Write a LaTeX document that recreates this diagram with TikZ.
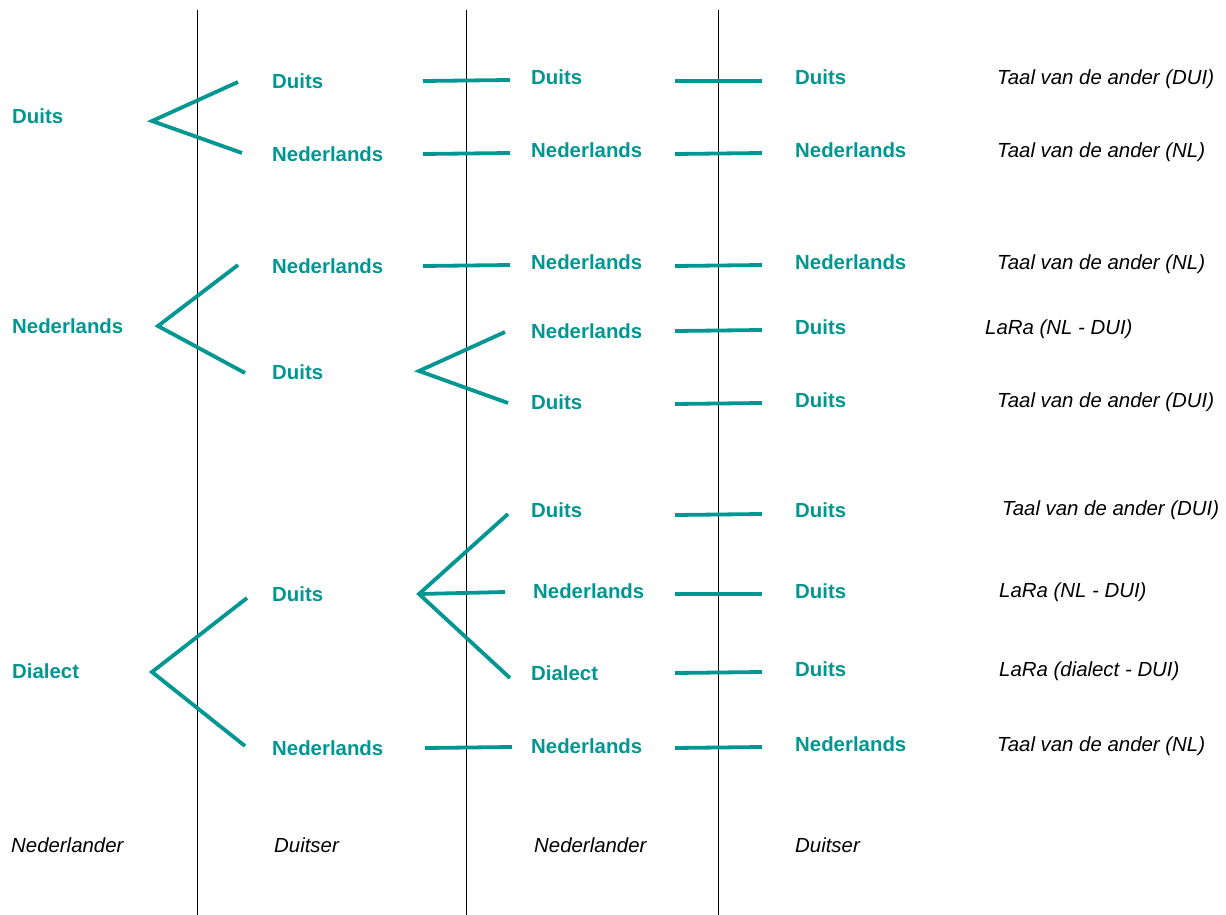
\documentclass[tikz,border=0pt]{standalone}
\usepackage{fontspec}
\setmainfont{Liberation Sans}
\definecolor{teal}{RGB}{0,150,145}
\begin{document}
\begin{tikzpicture}[x=1pt,y=-1pt,
  lang/.style={anchor=west,inner sep=0pt,text height=14.6pt,text depth=0pt,font=\fontsize{20.4}{24}\selectfont\bfseries,text=teal},
  note/.style={anchor=west,inner sep=0pt,text height=14.6pt,text depth=0pt,font=\fontsize{20.4}{24}\selectfont\itshape},
  branch/.style={draw=teal,line width=3.8pt},
  divider/.style={draw=black,line width=0.8pt}]
\useasboundingbox (0,0) rectangle (1226,915);
% dividers
\coordinate (v1t) at (197,10); \coordinate (v1b) at (197,915);
\coordinate (v2t) at (466,10); \coordinate (v2b) at (466,915);
\coordinate (v3t) at (718,10); \coordinate (v3b) at (718,915);
\draw[divider] (v1t) -- (v1b);
\draw[divider] (v2t) -- (v2b);
\draw[divider] (v3t) -- (v3b);
% column 1
\node[lang] (a1) at (12,116) {Duits};
\node[lang] (a2) at (12,326) {Nederlands};
\node[lang] (a3) at (12,671) {Dialect};
% column 2
\node[lang] (b1) at (272,81) {Duits};
\node[lang] (b2) at (272,154) {Nederlands};
\node[lang] (b3) at (272,266) {Nederlands};
\node[lang] (b4) at (272,372) {Duits};
\node[lang] (b5) at (272,594) {Duits};
\node[lang] (b6) at (272,748) {Nederlands};
% column 3
\node[lang] (c1) at (531,77) {Duits};
\node[lang] (c2) at (531,150) {Nederlands};
\node[lang] (c3) at (531,262) {Nederlands};
\node[lang] (c4) at (531,331) {Nederlands};
\node[lang] (c5) at (531,402) {Duits};
\node[lang] (c6) at (531,510) {Duits};
\node[lang] (c7) at (533,591) {Nederlands};
\node[lang] (c8) at (531,673) {Dialect};
\node[lang] (c9) at (531,746) {Nederlands};
% column 4
\node[lang] (d1) at (795,77) {Duits};
\node[lang] (d2) at (795,150) {Nederlands};
\node[lang] (d3) at (795,262) {Nederlands};
\node[lang] (d4) at (795,327) {Duits};
\node[lang] (d5) at (795,400) {Duits};
\node[lang] (d6) at (795,510) {Duits};
\node[lang] (d7) at (795,591) {Duits};
\node[lang] (d8) at (795,669) {Duits};
\node[lang] (d9) at (795,744) {Nederlands};
% column 5
\node[note] (e1) at (997,77) {Taal van de ander (DUI)};
\node[note] (e2) at (997,150) {Taal van de ander (NL)};
\node[note] (e3) at (997,262) {Taal van de ander (NL)};
\node[note] (e4) at (985,327) {LaRa (NL - DUI)};
\node[note] (e5) at (997,400) {Taal van de ander (DUI)};
\node[note] (e6) at (1002,508) {Taal van de ander (DUI)};
\node[note] (e7) at (999,590) {LaRa (NL - DUI)};
\node[note] (e8) at (999,669) {LaRa (dialect - DUI)};
\node[note] (e9) at (997,744) {Taal van de ander (NL)};
% bottom
\node[note] (f1) at (11,845) {Nederlander};
\node[note] (f2) at (274,845) {Duitser};
\node[note] (f3) at (534,845) {Nederlander};
\node[note] (f4) at (795,845) {Duitser};
% branches column 1 -> 2
\coordinate (p1) at (152,121); \coordinate (p1a) at (238,82); \coordinate (p1b) at (242,153);
\draw[branch] (p1a) -- (p1) -- (p1b);
\coordinate (p2) at (158,326); \coordinate (p2a) at (238,265); \coordinate (p2b) at (245,373);
\draw[branch] (p2a) -- (p2) -- (p2b);
\coordinate (p3) at (152,672); \coordinate (p3a) at (247,598); \coordinate (p3b) at (245,746);
\draw[branch] (p3a) -- (p3) -- (p3b);
% branches column 2 -> 3
\coordinate (q1) at (419,371); \coordinate (q1a) at (505,332); \coordinate (q1b) at (508,403);
\draw[branch] (q1a) -- (q1) -- (q1b);
\coordinate (q2) at (419,594); \coordinate (q2a) at (508,514); \coordinate (q2b) at (505,592); \coordinate (q2c) at (510,678);
\draw[branch] (q2a) -- (q2) -- (q2c);
\draw[branch] (q2) -- (q2b);
% straight lines column 2 -> 3
\coordinate (s1a) at (423,81);  \coordinate (s1b) at (510,80);
\coordinate (s2a) at (423,154); \coordinate (s2b) at (510,153);
\coordinate (s3a) at (423,266); \coordinate (s3b) at (510,265);
\coordinate (s4a) at (425,748); \coordinate (s4b) at (512,747);
\foreach \i in {1,...,4} {\draw[branch] (s\i a) -- (s\i b);}
% straight lines column 3 -> 4
\coordinate (t1a) at (675,81);  \coordinate (t1b) at (762,81);
\coordinate (t2a) at (675,154); \coordinate (t2b) at (762,153);
\coordinate (t3a) at (675,266); \coordinate (t3b) at (762,265);
\coordinate (t4a) at (675,331); \coordinate (t4b) at (762,330);
\coordinate (t5a) at (675,404); \coordinate (t5b) at (762,403);
\coordinate (t6a) at (675,515); \coordinate (t6b) at (762,514);
\coordinate (t7a) at (675,594); \coordinate (t7b) at (762,594);
\coordinate (t8a) at (675,673); \coordinate (t8b) at (762,672);
\coordinate (t9a) at (675,748); \coordinate (t9b) at (762,747);
\foreach \i in {1,...,9} {\draw[branch] (t\i a) -- (t\i b);}
\end{tikzpicture}
\end{document}
